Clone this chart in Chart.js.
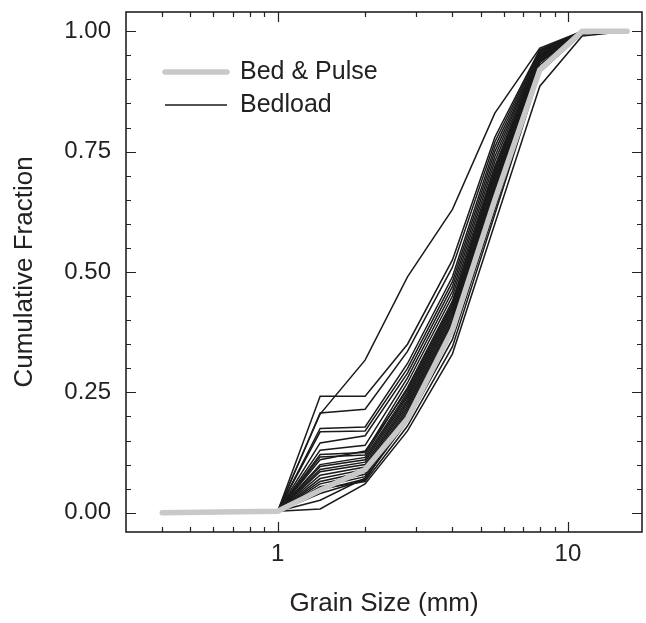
<!DOCTYPE html>
<html>
<head>
<meta charset="utf-8">
<script src="https://cdn.jsdelivr.net/npm/chart.js@4.4.1/dist/chart.umd.min.js"></script>
<style>
  html, body { margin: 0; padding: 0; background: #fff; }
  #wrap { width: 646px; height: 623px; }
</style>
</head>
<body>
<div id="wrap"><canvas id="gsd"></canvas></div>
<script>
// sieve sizes (mm)
var SIZES = [1, 1.4, 2, 2.8, 4, 5.6, 8, 11.2, 16];
var PULSE_SIZES = [0.4, 1, 1.4, 2, 2.8, 4, 5.6, 8, 11.2, 16];

// bed & pulse mixture
var PULSE = [0, 0.003, 0.047, 0.09, 0.195, 0.38, 0.65, 0.92, 1, 1];

// bedload samples, cumulative fraction finer at each size in SIZES
var BEDLOAD = [
  [0.003, 0.205, 0.317, 0.49, 0.63, 0.83, 0.965, 1, 1],
  [0.003, 0.242, 0.242, 0.35, 0.525, 0.78, 0.962, 1, 1],
  [0.003, 0.207, 0.215, 0.335, 0.51, 0.77, 0.96, 1, 1],
  [0.003, 0.175, 0.178, 0.31, 0.49, 0.76, 0.958, 1, 1],
  [0.003, 0.168, 0.17, 0.30, 0.48, 0.75, 0.955, 1, 1],
  [0.003, 0.145, 0.16, 0.29, 0.47, 0.74, 0.955, 1, 1],
  [0.003, 0.13, 0.14, 0.28, 0.46, 0.73, 0.952, 1, 1],
  [0.003, 0.121, 0.125, 0.27, 0.45, 0.72, 0.95, 1, 1],
  [0.003, 0.116, 0.12, 0.26, 0.44, 0.715, 0.95, 1, 1],
  [0.003, 0.11, 0.128, 0.255, 0.435, 0.71, 0.948, 1, 1],
  [0.003, 0.10, 0.115, 0.25, 0.43, 0.705, 0.948, 1, 1],
  [0.003, 0.096, 0.11, 0.245, 0.425, 0.70, 0.945, 1, 1],
  [0.003, 0.09, 0.105, 0.24, 0.42, 0.695, 0.945, 1, 1],
  [0.003, 0.085, 0.10, 0.235, 0.415, 0.69, 0.943, 1, 1],
  [0.003, 0.078, 0.095, 0.23, 0.41, 0.685, 0.942, 1, 1],
  [0.003, 0.071, 0.09, 0.225, 0.405, 0.68, 0.94, 1, 1],
  [0.003, 0.065, 0.085, 0.22, 0.40, 0.675, 0.94, 1, 1],
  [0.003, 0.06, 0.08, 0.215, 0.395, 0.67, 0.938, 1, 1],
  [0.003, 0.054, 0.075, 0.21, 0.39, 0.665, 0.936, 1, 1],
  [0.003, 0.047, 0.07, 0.205, 0.385, 0.66, 0.935, 1, 1],
  [0.003, 0.04, 0.068, 0.20, 0.375, 0.65, 0.93, 1, 1],
  [0.003, 0.05, 0.065, 0.18, 0.345, 0.62, 0.915, 0.995, 1],
  [0.003, 0.026, 0.072, 0.19, 0.36, 0.63, 0.92, 0.995, 1],
  [0.003, 0.008, 0.06, 0.17, 0.33, 0.60, 0.886, 0.99, 1]
];

var X_TICKS = [1, 10];
var X_MINOR = [0.4, 0.5, 0.6, 0.7, 0.8, 0.9, 2, 3, 4, 5, 6, 7, 8, 9];
var Y_TICKS = [0, 0.25, 0.5, 0.75, 1];
var Y_MINOR = [0.05, 0.1, 0.15, 0.2, 0.3, 0.35, 0.4, 0.45, 0.55, 0.6, 0.65, 0.7, 0.8, 0.85, 0.9, 0.95];

var FONT = "'Liberation Sans', Arial, sans-serif";
var INK = '#222';
var GREY = '#c8c8c8';

function pts(xs, ys) {
  return xs.map(function (x, i) { return {x: x, y: ys[i]}; });
}

var datasets = [{
  label: 'Bed & Pulse',
  data: pts(PULSE_SIZES, PULSE),
  borderColor: GREY,
  borderWidth: 5.5,
  borderCapStyle: 'round'
}];
BEDLOAD.forEach(function (s) {
  datasets.push({
    label: 'Bedload',
    data: pts(SIZES, s),
    borderColor: '#1a1a1a',
    borderWidth: 1.5
  });
});

// box, inward ticks on all four sides, and the legend inside the plot
var frame = {
  id: 'frame',
  afterDraw: function (chart) {
    var ctx = chart.ctx, a = chart.chartArea;
    var xs = chart.scales.x, ys = chart.scales.y;
    ctx.save();
    ctx.strokeStyle = INK;
    ctx.lineWidth = 1.6;
    ctx.strokeRect(a.left, a.top, a.right - a.left, a.bottom - a.top);

    ctx.lineWidth = 1.2;
    ctx.beginPath();
    X_TICKS.concat(X_MINOR).forEach(function (v) {
      var len = X_TICKS.indexOf(v) >= 0 ? 10 : 5;
      var px = Math.round(xs.getPixelForValue(v)) + 0.5;
      ctx.moveTo(px, a.bottom); ctx.lineTo(px, a.bottom - len);
      ctx.moveTo(px, a.top); ctx.lineTo(px, a.top + len);
    });
    Y_TICKS.concat(Y_MINOR).forEach(function (v) {
      var len = Y_TICKS.indexOf(v) >= 0 ? 10 : 5;
      var py = Math.round(ys.getPixelForValue(v)) + 0.5;
      ctx.moveTo(a.left, py); ctx.lineTo(a.left + len, py);
      ctx.moveTo(a.right, py); ctx.lineTo(a.right - len, py);
    });
    ctx.stroke();

    // legend
    var lx = a.left + 39, tx = a.left + 114;
    var rows = [
      {ds: chart.data.datasets[0], y: a.top + 60},
      {ds: chart.data.datasets[1], y: a.top + 93}
    ];
    ctx.font = '25px ' + FONT;
    ctx.textBaseline = 'middle';
    ctx.fillStyle = INK;
    rows.forEach(function (r) {
      ctx.beginPath();
      ctx.strokeStyle = r.ds.borderColor;
      ctx.lineWidth = r.ds.borderWidth;
      ctx.lineCap = r.ds.borderCapStyle || 'butt';
      ctx.moveTo(lx, r.y);
      ctx.lineTo(lx + 62, r.y);
      ctx.stroke();
      ctx.fillText(r.ds.label, tx, r.y);
    });
    ctx.restore();
  }
};

function noEdgePad(s) {
  s.paddingTop = 0; s.paddingBottom = 0;
  s.paddingLeft = 0; s.paddingRight = 0;
}

new Chart(document.getElementById('gsd'), {
  type: 'line',
  data: {datasets: datasets},
  options: {
    responsive: true,
    maintainAspectRatio: false,
    animation: false,
    layout: {padding: {top: 12, right: 4, left: 0, bottom: 0}},
    elements: {
      point: {radius: 0, hoverRadius: 0},
      line: {tension: 0, fill: false}
    },
    plugins: {
      legend: {display: false},
      tooltip: {enabled: false}
    },
    scales: {
      x: {
        type: 'logarithmic',
        min: 0.3,
        max: 18,
        grid: {display: false, drawTicks: false},
        border: {display: false},
        afterBuildTicks: function (s) {
          s.ticks = X_TICKS.map(function (v) { return {value: v}; });
        },
        afterFit: function (s) { s.height = 91; noEdgePad(s); },
        ticks: {
          color: INK,
          font: {family: FONT, size: 24},
          padding: 8,
          maxRotation: 0,
          autoSkip: false,
          callback: function (v) { return String(v); }
        },
        title: {
          display: true,
          text: 'Grain Size (mm)',
          color: INK,
          font: {family: FONT, size: 26},
          padding: {top: 0, bottom: 4}
        }
      },
      y: {
        type: 'linear',
        min: -0.04,
        max: 1.04,
        grid: {display: false, drawTicks: false},
        border: {display: false},
        afterBuildTicks: function (s) {
          s.ticks = Y_TICKS.map(function (v) { return {value: v}; });
        },
        afterFit: function (s) { s.width = 126; noEdgePad(s); },
        ticks: {
          color: INK,
          font: {family: FONT, size: 24},
          padding: 15,
          callback: function (v) { return v.toFixed(2); }
        },
        title: {
          display: true,
          text: 'Cumulative Fraction',
          color: INK,
          font: {family: FONT, size: 26},
          padding: {top: 9, bottom: 0}
        }
      }
    }
  },
  plugins: [frame]
});
</script>
</body>
</html>
